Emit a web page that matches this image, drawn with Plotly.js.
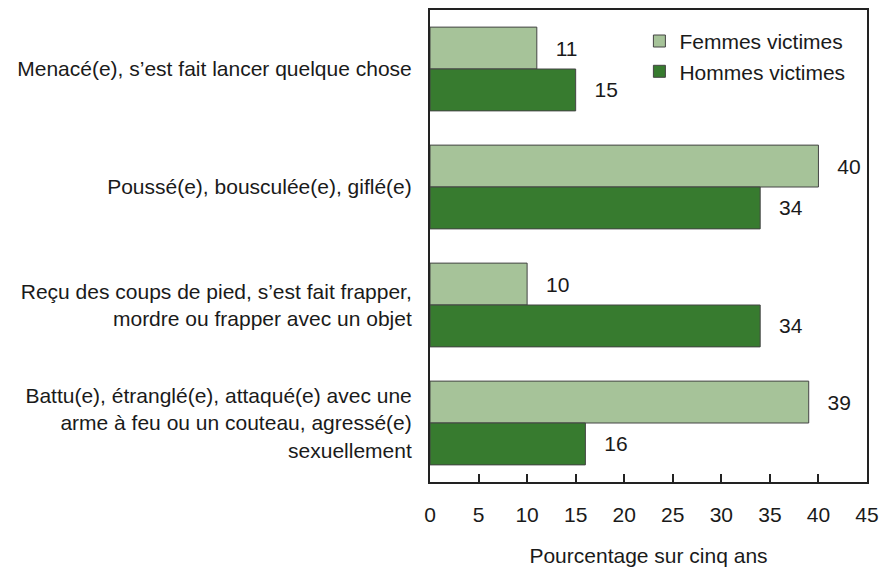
<!DOCTYPE html>
<html>
<head>
<meta charset="utf-8">
<script src="https://cdn.plot.ly/plotly-3.0.1.min.js"></script>
<style>html,body{margin:0;padding:0;background:#fff;}#chart{width:880px;height:567px;}</style>
</head>
<body>
<div id="chart"></div>
<script>
const categories = [
  "Menacé(e), s’est fait lancer quelque chose",
  "Poussé(e), bousculée(e), giflé(e)",
  "Reçu des coups de pied, s’est fait frapper,<br>mordre ou frapper avec un objet",
  "Battu(e), étranglé(e), attaqué(e) avec une<br>arme à feu ou un couteau, agressé(e)<br>sexuellement"
];
const femmes = [11, 40, 10, 39];
const hommes = [15, 34, 34, 16];
const seriesNames = ["Femmes victimes", "Hommes victimes"];
const xTicks = [0, 5, 10, 15, 20, 25, 30, 35, 40, 45];

const FONT = "Liberation Sans, Arial, Helvetica, sans-serif";
const fs = 21;
const TXT = "#1a1a1a";

function barTrace(vals, name, color) {
  return {
    type: "bar", orientation: "h",
    x: vals, y: categories, name: name,
    marker: {color: color, line: {color: "#444", width: 1}},
    text: vals.map(v => String(v)),
    texttemplate: "\u00a0\u00a0\u2009%{text}",
    textposition: "outside",
    textfont: {family: FONT, size: fs, color: TXT},
    cliponaxis: false,
    hoverinfo: "none"
  };
}

const data = [
  barTrace(femmes, seriesNames[0], "#a6c399"),
  barTrace(hommes, seriesNames[1], "#377b2f")
];

const layout = {
  width: 880, height: 567,
  margin: {l: 430, r: 13, t: 10, b: 85},
  paper_bgcolor: "#fff", plot_bgcolor: "#fff",
  font: {family: FONT, size: fs, color: TXT},
  barmode: "group", bargap: 0.29, bargroupgap: 0,
  showlegend: true,
  legend: {x: 0.962, y: 0.977, xanchor: "right", yanchor: "top",
           font: {family: FONT, size: fs, color: TXT},
           bgcolor: "rgba(0,0,0,0)", tracegroupgap: 0, itemwidth: 30},
  xaxis: {
    range: [0, 45], tickvals: xTicks, ticktext: xTicks.map(String),
    ticks: "inside", ticklen: 8, tickwidth: 2, tickcolor: "#222",
    showline: true, linecolor: "#222", linewidth: 2, mirror: true,
    showgrid: false, zeroline: false, fixedrange: true,
    ticklabelstandoff: 13,
    tickfont: {family: FONT, size: fs, color: TXT},
    title: {text: "Pourcentage sur cinq ans", font: {family: FONT, size: fs, color: TXT}, standoff: 23}
  },
  yaxis: {
    type: "category", autorange: "reversed",
    ticks: "", showline: true, linecolor: "#222", linewidth: 2, mirror: true,
    showgrid: false, zeroline: false, fixedrange: true,
    ticklabelstandoff: 12,
    tickfont: {family: FONT, size: fs, color: TXT}
  }
};

Plotly.newPlot("chart", data, layout, {displayModeBar: false, staticPlot: true});
</script>
</body>
</html>
